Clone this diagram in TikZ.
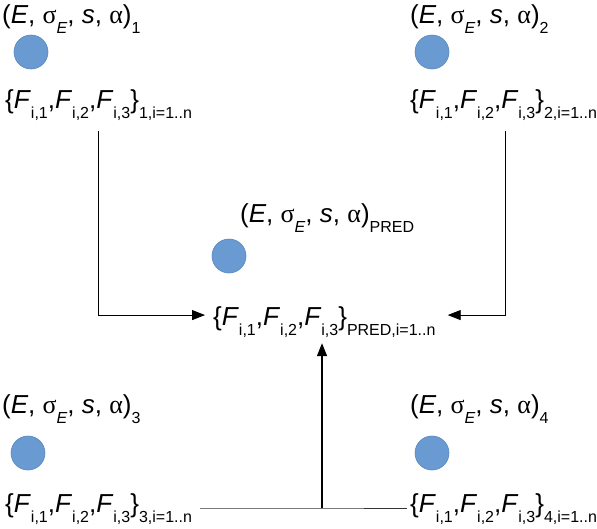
\documentclass[tikz,border=0pt]{standalone}
\usepackage{fontspec}
\setmainfont{Liberation Sans}
\newfontfamily\grk{Liberation Serif}
\usetikzlibrary{arrows.meta,positioning,calc}
\definecolor{dotfill}{HTML}{6A9AD2}
\definecolor{dotline}{HTML}{5A86BC}
\newcommand\sbs[1]{\raisebox{-0.42em}{\fontsize{16}{17}\selectfont #1}}
\newcommand\tup[1]{(\textit{E}, {\grk σ}\sbs{\textit{E}}, \textit{s}, {\grk α})\sbs{#1}}
\newcommand\fset[1]{\{\textit{F}\sbs{i,1},\textit{F}\sbs{i,2},\textit{F}\sbs{i,3}\}\sbs{#1}}
\tikzset{
  >={Triangle[length=13pt,width=10pt]},
  lab/.style={inner sep=0pt,anchor=base west,font=\fontsize{26}{30}\selectfont},
  dot/.style={circle,fill=dotfill,draw=dotline,line width=0.6pt,minimum size=34pt,inner sep=0pt},
  arr/.style={->,draw=black,line width=0.9pt},
  ln/.style={draw=black!80,line width=0.9pt},
}
\begin{document}
\begin{tikzpicture}[x=1pt,y=-1pt]
\useasboundingbox (0,0) rectangle (597,528);
% parameter sets
\node[lab] (p1) at (2,23) {\tup{1}};
\node[lab] (p2) at (410,23) {\tup{2}};
\node[lab] (pp) at (240,222) {\tup{PRED}};
\node[lab] (p3) at (2,413) {\tup{3}};
\node[lab] (p4) at (410,413) {\tup{4}};
% points
\node[dot] (c1) at (31,52) {};
\node[dot] (c2) at (432,52) {};
\node[dot] (cp) at (229,256) {};
\node[dot] (c3) at (28,453) {};
\node[dot] (c4) at (432,453) {};
% force sets
\node[lab] (f1) at (5,108) {\fset{1,i=1..n}};
\node[lab] (f2) at (410,108) {\fset{2,i=1..n}};
\node[lab] (fp) at (213,325) {\fset{PRED,i=1..n}};
\node[lab] (f3) at (5,512) {\fset{3,i=1..n}};
\node[lab] (f4) at (410,512) {\fset{4,i=1..n}};
% connectors
\coordinate (jn) at (322,508);
\draw[arr] ([xshift=93pt,yshift=-10pt]f1.south west) |- ([xshift=-8pt,yshift=7pt]fp.west);
\draw[arr] ([xshift=95pt,yshift=-10pt]f2.south west) |- ([xshift=12pt,yshift=7pt]fp.east);
\draw[ln] ([xshift=8pt]f3.east |- jn) -- (jn) -- ([xshift=-3pt]f4.west |- jn);
\draw[arr,line width=1.6pt] (jn) -- ([yshift=-5pt]jn |- fp.south);
\end{tikzpicture}
\end{document}
